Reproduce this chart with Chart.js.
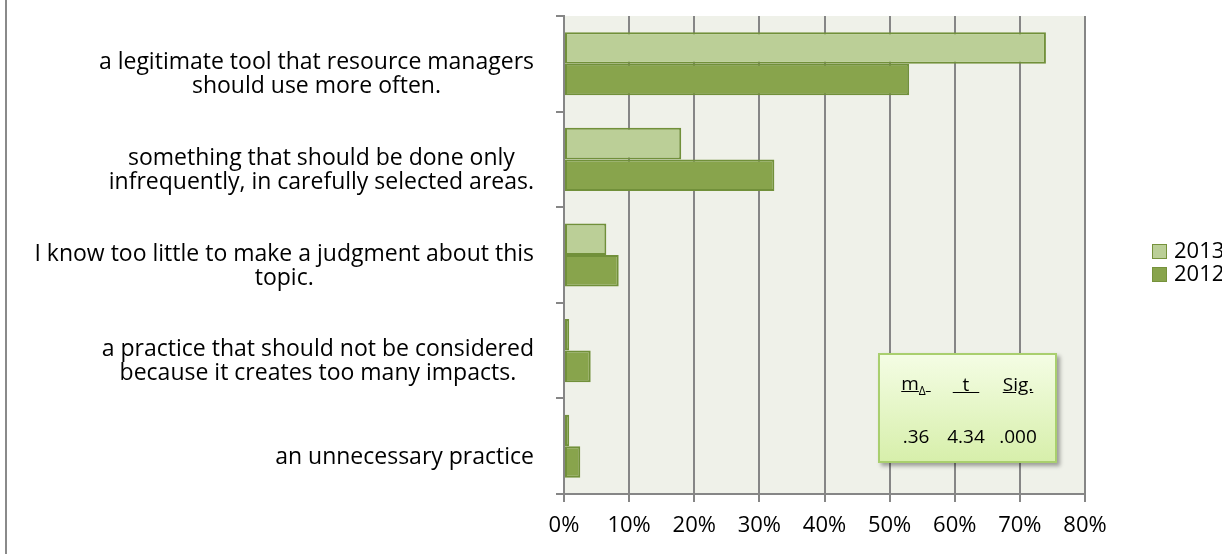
<!DOCTYPE html>
<html lang="en">
  <head>
    <meta charset="UTF-8" />
    <title>Opinion on the practice, 2012 vs 2013</title>
    <script src="https://cdn.jsdelivr.net/npm/chart.js@4"></script>
    <style>
      body { margin: 0; width: 1222px; height: 554px; overflow: hidden; background: #fff; position: relative; font-family: "Open Sans", sans-serif; }
      #wrap { position: absolute; left: 0; top: 0; width: 1222px; height: 554px; }
      #frame { position: absolute; left: 5px; top: 0; width: 2px; height: 554px; background: #8a8a8a; }
      #legend { position: absolute; left: 1152px; top: 238px; font-size: 22px; color: #000; }
      #legend div { height: 23px; line-height: 23px; white-space: nowrap; }
      #legend span { display: inline-block; width: 15px; height: 15px; margin-right: 7px; vertical-align: -1px; box-sizing: border-box; border: 1.5px solid #76923c; }
      #stats {
        position: absolute; left: 878px; top: 353px; width: 179px; height: 110px; box-sizing: border-box;
        border: 2px solid #a9cf6e; background: linear-gradient(#f4fde4, #d7efab);
        box-shadow: 3px 3px 4px rgba(0,0,0,0.35); font-size: 19px; color: #000;
      }
      #stats table { position: absolute; left: 11px; top: 12px; border-collapse: collapse; table-layout: fixed; }
      #stats td { padding: 0; text-align: center; width: 50px; }
      #stats td:last-child { width: 54px; }
      #stats tr.h td { height: 34px; }
      #stats tr.v td { height: 70px; }
    </style>
  </head>
  <body>
    <div id="wrap"><canvas id="myChart" width="1222" height="554"></canvas></div>
    <div id="frame"></div>
    <div id="legend"></div>
    <div id="stats">
      <table>
        <tr class="h"><td><u>m<sub style="font-size:12px">Δ</sub>&nbsp;</u></td><td><u>&nbsp;&nbsp;t&nbsp;&nbsp;</u></td><td><u>Sig.</u></td></tr>
        <tr class="v"><td>.36</td><td>4.34</td><td>.000</td></tr>
      </table>
    </div>
    <script>
      // categories (wrapped as in the original)
      const categories = [
        ["a legitimate tool that resource managers", "should use more often."],
        ["something that should be done only", "infrequently, in carefully selected areas."],
        ["I know too little to make a judgment about this", "topic."],
        ["a practice that should not be considered", "because it creates too many impacts."],
        ["an unnecessary practice"],
      ];
      const seriesNames = ["2013", "2012"];
      const values2013 = [74, 18, 6.5, 0.8, 0.8];
      const values2012 = [53, 32.3, 8.4, 4.1, 2.5];
      const xTicks = [0, 10, 20, 30, 40, 50, 60, 70, 80];

      const fills = ["#bbcf97", "#88a44c"];

      // plot area background
      const plotBg = {
        id: "plotBg",
        beforeDraw(chart) {
          const a = chart.chartArea;
          chart.ctx.save();
          chart.ctx.fillStyle = "#eff1e9";
          chart.ctx.fillRect(a.left, a.top, a.right - a.left, a.bottom - a.top);
          chart.ctx.restore();
        },
      };

      // category labels: each label block sits against the axis, lines centred inside it
      const catLabels = {
        id: "catLabels",
        afterDraw(chart) {
          const y = chart.scales.y;
          const ctx = chart.ctx;
          ctx.save();
          ctx.font = '23px "Open Sans"';
          ctx.fillStyle = "#000";
          ctx.textAlign = "center";
          ctx.textBaseline = "middle";
          const right = y.right - 30;
          categories.forEach((lines, i) => {
            const w = Math.max(...lines.map((l) => ctx.measureText(l).width));
            const cx = right - w / 2;
            const cy = y.getPixelForTick(i) + 11;
            lines.forEach((l, j) => {
              ctx.fillText(l, cx, cy + (j - (lines.length - 1) / 2) * 24);
            });
          });
          ctx.restore();
        },
      };

      const ctx = document.getElementById("myChart").getContext("2d");
      const chart = new Chart(ctx, {
        type: "bar",
        data: {
          labels: categories,
          datasets: [
            { label: seriesNames[0], data: values2013, backgroundColor: fills[0] },
            { label: seriesNames[1], data: values2012, backgroundColor: fills[1] },
          ].map((d) => Object.assign(d, {
            borderColor: "#71903a",
            borderWidth: 2,
            borderSkipped: false,
            barPercentage: 1,
            categoryPercentage: 0.66,
          })),
        },
        options: {
          indexAxis: "y",
          responsive: false,
          animation: false,
          layout: { padding: { top: 16, right: 137, left: 0, bottom: 0 } },
          plugins: { legend: { display: false }, tooltip: { enabled: false } },
          scales: {
            x: {
              type: "linear",
              min: 0,
              max: 80,
              afterBuildTicks: (s) => { s.ticks = xTicks.map((v) => ({ value: v })); },
              afterFit: (s) => { s.height = 60; },
              ticks: {
                callback: (v) => v + "%",
                color: "#000",
                font: { family: "Open Sans", size: 22 },
                padding: 11,
              },
              grid: { color: "#868686", lineWidth: 2, tickLength: 8 },
              border: { color: "#868686", width: 2 },
            },
            y: {
              type: "category",
              offset: true,
              afterFit: (s) => { s.width = 564; },
              ticks: { display: false },
              grid: { offset: true, drawOnChartArea: false, color: "#868686", lineWidth: 2, tickLength: 8 },
              border: { color: "#868686", width: 2 },
            },
          },
        },
        plugins: [plotBg, catLabels],
      });

      // legend, outside the plot on the right
      const legend = document.getElementById("legend");
      seriesNames.forEach((name, i) => {
        const row = document.createElement("div");
        row.innerHTML = `<span style="background:${fills[i]}"></span>${name}`;
        legend.appendChild(row);
      });
    </script>
  </body>
</html>
